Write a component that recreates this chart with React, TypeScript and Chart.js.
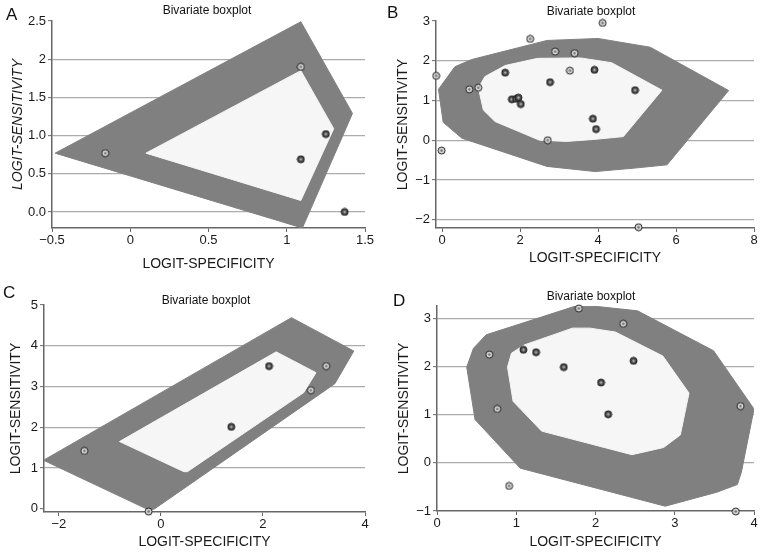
import React, { useEffect, useRef } from 'react';
import { Chart, registerables } from 'chart.js';

Chart.register(...registerables);

type Pt = [number, number];

// ---------- Panel A ----------
const aHullOuter: Pt[] = [[-0.48, 0.77], [1.09, 2.49], [1.42, 1.29], [1.10, -0.21], [-0.48, 0.77]];
const aHullInner: Pt[] = [[0.10, 0.77], [1.09, 1.85], [1.30, 1.09], [1.09, 0.15], [0.10, 0.77]];
const aPointsOuter: Pt[] = [[-0.16, 0.77], [1.09, 1.90]];
const aPointsInner: Pt[] = [[1.25, 1.02], [1.09, 0.69], [1.37, 0.0]];
const aXTicks = [-0.5, 0, 0.5, 1, 1.5];
const aXLabels = ['\u22120.5', '0', '0.5', '1', '1.5'];
const aYTicks = [0, 0.5, 1, 1.5, 2, 2.5];
const aYLabels = ['0.0', '0.5', '1.0', '1.5', '2', '2.5'];
const aGrid = [0, 0.5, 1, 1.5, 2];

// ---------- Panel B ----------
const bHullOuter: Pt[] = [
  [-0.09, 1.28], [0.33, 1.85], [0.76, 2.03], [2.69, 2.51], [4.0, 2.56], [5.34, 2.34],
  [7.35, 1.25], [5.77, -0.62], [4.96, -0.70], [3.93, -0.79], [2.69, -0.66], [0.51, 0.05],
  [0.03, 0.45], [-0.09, 1.28],
];
const bHullInner: Pt[] = [
  [0.94, 1.32], [1.10, 1.60], [1.62, 1.88], [2.45, 2.06], [3.55, 2.07], [4.35, 1.95],
  [5.64, 1.26], [4.65, 0.09], [3.90, 0.02], [3.20, -0.03], [2.50, 0.0], [1.36, 0.47],
  [1.06, 0.76], [0.96, 1.20], [0.94, 1.32],
];
const bPointsOuter: Pt[] = [
  [4.12, 2.95], [2.26, 2.55], [2.90, 2.23], [3.40, 2.19], [-0.15, 1.62], [0.70, 1.28],
  [0.93, 1.32], [3.28, 1.75], [2.71, 0.0], [-0.01, -0.26], [5.04, -2.19],
];
const bPointsInner: Pt[] = [
  [1.62, 1.70], [2.77, 1.46], [3.91, 1.77], [1.79, 1.03], [1.90, 1.04], [1.96, 1.07],
  [2.02, 0.91], [3.87, 0.54], [3.95, 0.28], [4.95, 1.26],
];
const bXTicks = [0, 2, 4, 6, 8];
const bXLabels = ['0', '2', '4', '6', '8'];
const bYTicks = [-2, -1, 0, 1, 2, 3];
const bYLabels = ['\u22122', '\u22121', '0', '1', '2', '3'];
const bGrid = [-2, -1, 0, 1, 2];

// ---------- Panel C ----------
const cHullOuter: Pt[] = [[-2.30, 1.19], [2.56, 4.69], [3.78, 3.87], [3.41, 3.07], [-0.12, 0.0], [-0.22, -0.04], [-2.30, 1.19]];
const cHullInner: Pt[] = [[-0.81, 1.65], [2.26, 3.85], [3.04, 3.34], [2.80, 2.85], [0.52, 0.91], [0.45, 0.91], [-0.81, 1.65]];
const cPointsOuter: Pt[] = [[-1.50, 1.42], [-0.24, -0.07], [3.24, 3.50], [2.94, 2.91]];
const cPointsInner: Pt[] = [[1.38, 2.01], [2.12, 3.50]];
const cXTicks = [-2, 0, 2, 4];
const cXLabels = ['\u22122', '0', '2', '4'];
const cYTicks = [0, 1, 2, 3, 4, 5];
const cYLabels = ['0', '1', '2', '3', '4', '5'];
const cGrid = [1, 2, 3, 4];

// ---------- Panel D ----------
const dHullOuter: Pt[] = [
  [0.375, 1.99], [0.46, 2.38], [0.62, 2.66], [1.75, 3.26], [2.02, 3.25], [2.53, 3.16],
  [3.49, 2.33], [4.0, 1.12], [3.84, -0.20], [3.79, -0.45], [3.53, -0.61], [2.88, -0.90],
  [1.05, -0.11], [0.48, 0.90], [0.375, 1.99],
];
const dHullInner: Pt[] = [
  [0.89, 1.99], [0.94, 2.28], [1.10, 2.45], [1.71, 2.80], [1.93, 2.80], [2.25, 2.72],
  [2.85, 2.22], [3.18, 1.45], [3.07, 0.58], [2.86, 0.32], [2.46, 0.17], [1.32, 0.66],
  [0.96, 1.28], [0.89, 1.99],
];
const dPointsOuter: Pt[] = [[1.79, 3.21], [2.35, 2.89], [0.66, 2.25], [0.76, 1.12], [3.83, 1.18], [0.91, -0.48], [3.77, -1.01]];
const dPointsInner: Pt[] = [[1.09, 2.35], [1.25, 2.30], [1.60, 1.99], [2.48, 2.12], [2.07, 1.67], [2.16, 1.01]];
const dXTicks = [0, 1, 2, 3, 4];
const dXLabels = ['0', '1', '2', '3', '4'];
const dYTicks = [-1, 0, 1, 2, 3];
const dYLabels = ['\u22121', '0', '1', '2', '3'];
const dGrid = [0, 1, 2, 3];

const SUBTITLE = 'Bivariate boxplot';
const X_TITLE = 'LOGIT-SPECIFICITY';
const Y_TITLE = 'LOGIT-SENSITIVITY';

const FONT = '"Liberation Sans", Arial, Helvetica, sans-serif';
const OUTER_FILL = '#808080';
const INNER_FILL = '#f6f6f6';
const GRID_COLOR = '#ababab';
const AXIS_COLOR = '#666666';

interface PanelSpec {
  letter: string;
  left: number; top: number; w: number; h: number;
  yW: number; xH: number; padT: number; padR: number;
  yTitlePad: number; xTitlePad: number; yItalic: boolean;
  letterPos: [number, number]; subPos: [number, number];
  xMin: number; xMax: number; yMin: number; yMax: number;
  xTicks: number[]; xLabels: string[]; yTicks: number[]; yLabels: string[]; grid: number[];
  hullOuter: Pt[]; hullInner: Pt[]; ptsOuter: Pt[]; ptsInner: Pt[];
}

const panels: PanelSpec[] = [
  {
    letter: 'A', left: 0, top: 0, w: 382, h: 276, yW: 52, xH: 48, padT: 21, padR: 17,
    yTitlePad: 10, xTitlePad: 3, yItalic: true, letterPos: [6, 20], subPos: [207, 14],
    xMin: -0.5, xMax: 1.5, yMin: -0.21, yMax: 2.5,
    xTicks: aXTicks, xLabels: aXLabels, yTicks: aYTicks, yLabels: aYLabels, grid: aGrid,
    hullOuter: aHullOuter, hullInner: aHullInner, ptsOuter: aPointsOuter, ptsInner: aPointsInner,
  },
  {
    letter: 'B', left: 382, top: 0, w: 383, h: 276, yW: 54, xH: 48, padT: 21, padR: 11,
    yTitlePad: 13, xTitlePad: 9, yItalic: false, letterPos: [5, 18], subPos: [209, 15],
    xMin: -0.154, xMax: 8, yMin: -2.21, yMax: 3,
    xTicks: bXTicks, xLabels: bXLabels, yTicks: bYTicks, yLabels: bYLabels, grid: bGrid,
    hullOuter: bHullOuter, hullInner: bHullInner, ptsOuter: bPointsOuter, ptsInner: bPointsInner,
  },
  {
    letter: 'C', left: 0, top: 276, w: 382, h: 277, yW: 44, xH: 41, padT: 29, padR: 17,
    yTitlePad: 8, xTitlePad: 2, yItalic: false, letterPos: [3, 22], subPos: [206, 28],
    xMin: -2.29, xMax: 4, yMin: -0.08, yMax: 5,
    xTicks: cXTicks, xLabels: cXLabels, yTicks: cYTicks, yLabels: cYLabels, grid: cGrid,
    hullOuter: cHullOuter, hullInner: cHullInner, ptsOuter: cPointsOuter, ptsInner: cPointsInner,
  },
  {
    letter: 'D', left: 382, top: 276, w: 383, h: 277, yW: 55, xH: 42, padT: 30, padR: 11,
    yTitlePad: 14, xTitlePad: 2, yItalic: false, letterPos: [11, 30], subPos: [209, 24],
    xMin: 0, xMax: 4, yMin: -1, yMax: 3.26,
    xTicks: dXTicks, xLabels: dXLabels, yTicks: dYTicks, yLabels: dYLabels, grid: dGrid,
    hullOuter: dHullOuter, hullInner: dHullInner, ptsOuter: dPointsOuter, ptsInner: dPointsInner,
  },
];

function makeMarker(fill: string, dot: string): HTMLCanvasElement {
  const c = document.createElement('canvas');
  c.width = 9;
  c.height = 9;
  const g = c.getContext('2d')!;
  g.beginPath();
  g.arc(4.5, 4.5, 3.5, 0, Math.PI * 2);
  g.fillStyle = fill;
  g.fill();
  g.lineWidth = 1;
  g.strokeStyle = '#1e1e1e';
  g.stroke();
  g.beginPath();
  g.arc(4.5, 4.5, 1.2, 0, Math.PI * 2);
  g.fillStyle = dot;
  g.fill();
  return c;
}

const toXY = (pts: Pt[]) => pts.map(([x, y]) => ({ x, y }));

function Panel({ spec }: { spec: PanelSpec }) {
  const ref = useRef<HTMLCanvasElement>(null);

  useEffect(() => {
    const lightMarker = makeMarker('#dadada', '#6a6a6a');
    const darkMarker = makeMarker('#4a4a4a', '#b5b5b5');

    const textPlugin = {
      id: 'panelText',
      afterDraw(chart: any) {
        const ctx = chart.ctx as CanvasRenderingContext2D;
        ctx.save();
        ctx.fillStyle = '#111';
        ctx.textBaseline = 'alphabetic';
        ctx.textAlign = 'left';
        ctx.font = `17px ${FONT}`;
        ctx.fillText(spec.letter, spec.letterPos[0], spec.letterPos[1]);
        ctx.textAlign = 'center';
        ctx.font = `12px ${FONT}`;
        ctx.fillText(SUBTITLE, spec.subPos[0], spec.subPos[1]);
        ctx.restore();
      },
    };

    const hullDs = (pts: Pt[], color: string, order: number) => ({
      data: toXY(pts),
      showLine: true,
      fill: 'shape',
      backgroundColor: color,
      borderColor: color,
      borderWidth: 1,
      pointRadius: 0,
      pointHoverRadius: 0,
      tension: 0,
      order,
    });

    const chart = new Chart(ref.current!, {
      type: 'scatter',
      data: {
        datasets: [
          {
            data: toXY(spec.ptsOuter),
            pointStyle: lightMarker,
            pointRadius: 4,
            clip: false,
            order: 0,
          } as any,
          {
            data: toXY(spec.ptsInner),
            pointStyle: darkMarker,
            pointRadius: 4,
            clip: false,
            order: 0,
          } as any,
          hullDs(spec.hullInner, INNER_FILL, 1) as any,
          hullDs(spec.hullOuter, OUTER_FILL, 2) as any,
        ],
      },
      options: {
        responsive: false,
        animation: false,
        events: [],
        layout: { padding: { left: 0, top: spec.padT, right: spec.padR, bottom: 0 } },
        plugins: {
          legend: { display: false },
          tooltip: { enabled: false },
          title: { display: false },
        },
        scales: {
          x: {
            type: 'linear',
            min: spec.xMin,
            max: spec.xMax,
            afterBuildTicks: (s: any) => {
              s.ticks = spec.xTicks.map((v) => ({ value: v }));
            },
            afterFit: (s: any) => {
              s.height = spec.xH;
            },
            ticks: {
              callback: (_v: any, i: number) => spec.xLabels[i],
              font: { size: 13, family: FONT },
              color: '#1a1a1a',
              padding: 1,
              maxRotation: 0,
              autoSkip: false,
            },
            grid: {
              drawOnChartArea: false,
              drawTicks: true,
              tickLength: 4,
              tickColor: AXIS_COLOR,
              tickWidth: 1,
            },
            border: { display: true, color: AXIS_COLOR, width: 1.5 },
            title: {
              display: true,
              text: X_TITLE,
              font: { size: 14, family: FONT },
              color: '#1a1a1a',
              padding: { top: 0, bottom: spec.xTitlePad },
            },
          },
          y: {
            type: 'linear',
            min: spec.yMin,
            max: spec.yMax,
            afterBuildTicks: (s: any) => {
              s.ticks = spec.yTicks.map((v) => ({ value: v }));
            },
            afterFit: (s: any) => {
              s.width = spec.yW;
            },
            ticks: {
              callback: (_v: any, i: number) => spec.yLabels[i],
              font: { size: 13, family: FONT },
              color: '#1a1a1a',
              padding: 2,
              autoSkip: false,
            },
            grid: {
              drawOnChartArea: true,
              drawTicks: true,
              tickLength: 4,
              tickColor: AXIS_COLOR,
              tickWidth: 1,
              lineWidth: 1.3,
              color: (ctx: any) =>
                ctx.tick && spec.grid.includes(ctx.tick.value) ? GRID_COLOR : 'rgba(0,0,0,0)',
            },
            border: { display: true, color: AXIS_COLOR, width: 1.5 },
            title: {
              display: true,
              text: Y_TITLE,
              font: { size: 14, family: FONT, style: spec.yItalic ? 'italic' : 'normal' },
              color: '#1a1a1a',
              padding: { top: spec.yTitlePad, bottom: 0 },
            },
          },
        },
      } as any,
      plugins: [textPlugin],
    });
    return () => chart.destroy();
  }, [spec]);

  return (
    <canvas
      ref={ref}
      width={spec.w}
      height={spec.h}
      style={{
        position: 'absolute',
        left: spec.left,
        top: spec.top,
        width: spec.w,
        height: spec.h,
        display: 'block',
      }}
    />
  );
}

export default function App() {
  return (
    <div
      style={{
        position: 'absolute',
        left: 0,
        top: 0,
        width: 765,
        height: 553,
        background: '#ffffff',
        overflow: 'hidden',
      }}
    >
      {panels.map((p) => (
        <Panel key={p.letter} spec={p} />
      ))}
    </div>
  );
}
